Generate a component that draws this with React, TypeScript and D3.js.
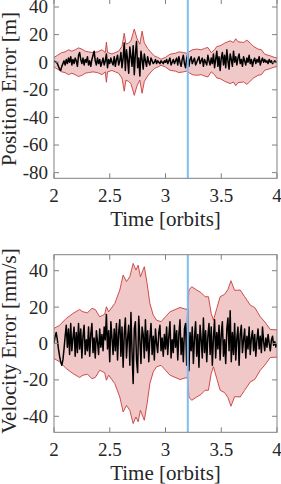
import React from "react";
import * as d3 from "d3";

// ---------- data ----------
const X_TICKS = [2, 2.5, 3, 3.5, 4];
const X_TICK_LABELS = ["2", "2.5", "3", "3.5", "4"];
const POS_Y_TICKS = [-80, -60, -40, -20, 0, 20, 40];
const VEL_Y_TICKS = [-40, -20, 0, 20, 40];
const EVENT_TIME = 3.2;

const ERR_T0 = 2;
const ERR_DT = 0.01;

// 3-sigma envelope, position [m]
const POS_SIGMA_T = [
  2.0, 2.03, 2.07, 2.1, 2.13, 2.16, 2.19, 2.22, 2.25, 2.28, 2.31, 2.35, 2.39, 2.43, 2.46, 2.47, 2.48,
  2.52, 2.55, 2.58, 2.61, 2.63, 2.645, 2.67, 2.69, 2.72, 2.745, 2.77, 2.79, 2.81, 2.84, 2.87, 2.9,
  2.93, 2.96, 3.0, 3.04, 3.09, 3.12, 3.16, 3.19, 3.21, 3.24, 3.28, 3.32, 3.35, 3.38, 3.41, 3.44,
  3.46, 3.49, 3.53, 3.58, 3.61, 3.63, 3.65, 3.7, 3.73, 3.76, 3.79, 3.83, 3.86, 3.89, 3.94, 3.98, 4.0,
];
const POS_SIGMA_V = [
  3.4, 5, 7, 7.5, 9, 8, 9, 10.4, 9.5, 8, 7.5, 7, 7.5, 9, 7, 14.5, 7,
  6, 7, 8, 11.5, 21, 13, 14, 15.5, 24, 17, 13, 22.5, 14, 10, 7, 4.6,
  3.5, 2.2, 3.5, 5.8, 6.5, 7.5, 7, 6.5, 7.5, 9, 9.5, 9, 10, 10.7, 7, 9,
  11.4, 11.9, 13.8, 15.5, 14.3, 17, 14.8, 14.3, 16, 13.8, 11.4, 9.5, 9, 5.8, 4.6, 3.4, 3.2,
];

// position error [m], sampled every 0.01 orbit from t = 2
const POS_ERR = [
  1, 0.5, 0, -1, -3, -5, -6, -3, -1, 1,
  -2, 2, -1, 3, 0, 4, -2, 2, -1, 3,
  1, -3, 5, 7, 2, -1, 3, -2, 2, 0,
  4, -2, 1, -3, 2, 5, 8, 1, -2, 3,
  -1, 2, -3, 0, 3, -2, 1, 6, -4, 2,
  -1, 3, 0, -2, 4, -3, 2, 5, -2, 1,
  7, -4, 3, 14, -6, 9, 2, -8, 11, 4,
  -3, 12, -9, 6, 15, -4, 3, -10, 8, 2,
  -5, 6, 1, -3, 4, 0, -2, 3, 1, -1,
  0, 2, -1, 1, 0, -1, 1, 0, -1, 1,
  0, 2, -1, 1, 3, -2, 0, 2, -1, 1,
  3, -2, 4, 0, -3, 2, 5, -1, -4, 3,
  6, -3, 2, 4, -1, 1, 3, -2, 0, 2,
  4, -1, 1, 3, -3, 2, 0, -2, 5, 1,
  -2, 3, -1, 6, -4, 2, 8, -3, 4, -6,
  3, 7, -2, 5, -4, 9, 1, -5, 6, 2,
  -3, 8, 0, 4, -2, 3, 6, -1, 2, -3,
  4, 1, -2, 3, 0, 5, -1, 2, -3, 1,
  3, -1, 2, 0, 4, -2, 1, 3, 0, 2,
  0, 1, -1, 2, 0, 1, -1, 0, 1, 0,
  0,
];

// 3-sigma envelope, velocity [mm/s]
const VEL_SIGMA_T = [
  2.0, 2.05, 2.11, 2.17, 2.23, 2.26, 2.3, 2.34, 2.37, 2.41, 2.455, 2.47, 2.49, 2.545, 2.59, 2.62,
  2.65, 2.68, 2.71, 2.735, 2.755, 2.775, 2.81, 2.835, 2.86, 2.89, 2.92, 2.96, 3.0, 3.04, 3.13, 3.19,
  3.2, 3.21, 3.235, 3.28, 3.32, 3.355, 3.385, 3.41, 3.43, 3.46, 3.49, 3.53, 3.56, 3.587, 3.62, 3.67,
  3.71, 3.76, 3.8, 3.85, 3.89, 3.94, 4.0,
];
const VEL_SIGMA_V = [
  8.3, 10, 13.8, 16.5, 18.7, 17.4, 16.9, 19.3, 18.7, 14.7, 16.1, 20.2, 17.4, 22, 29.4, 37.6,
  34, 36.7, 44, 40.4, 43, 36.7, 42.2, 33, 22, 15.6, 12.8, 12, 14.7, 17.4, 19.8, 18.7,
  20, 29.4, 31.2, 29.4, 27.9, 25.7, 25.7, 16.5, 12.8, 19.3, 25.7, 27, 29.7, 34.5, 29.2, 29.4,
  25.7, 21.1, 19.8, 14.7, 11.9, 7.7, 7.5,
];

// velocity error [mm/s], sampled every 0.01 orbit from t = 2
const VEL_ERR = [
  0, 4, 6, 2, -3, -7, -10, -12, -9, -3,
  4, 10, -2, 8, -6, 11, -4, 3, 9, -7,
  6, -5, 11, -3, 8, -8, 4, 10, -6, 2,
  -4, 9, -7, 5, 11, -5, 3, -8, 7, 1,
  -6, 8, -2, 5, -4, 9, 2, 16, -3, 7,
  -10, 12, 3, -6, 8, -4, 11, -9, 6, 13,
  -7, 9, -13, 5, 14, -8, 3, 10, -12, 17,
  -5, -22, 8, 12, -9, -16, 15, 2, -11, 9,
  5, -8, 13, -4, 7, -10, 3, 11, -6, 4,
  -9, 8, 0, -5, 6, 10, -4, 3, -7, 5,
  -3, 9, -6, 4, 12, -8, 2, -5, 10, -2,
  7, -9, 5, 13, -6, 3, -10, 8, 11, -12,
  19, -15, 6, -4, 9, -11, 3, 12, -7, 5,
  -13, 10, 2, -8, 14, -5, 7, -10, 4, 11,
  -6, 9, -12, 3, 13, -8, 6, -3, 10, -9,
  5, 12, -7, 2, -11, 8, 14, -4, 18, -10,
  6, -6, 11, -9, 3, 9, -12, 5, 10, -5,
  2, 8, -8, 4, -3, 9, -6, 3, 7, -4,
  5, -7, 2, 8, -3, 4, -5, 9, 1, -4,
  3, -2, 5, 0, -4, 2, 4, -1, 1, -2,
  0,
];

// ---------- styling ----------
const W = 281;
const H = 484;
const LEFT = 54;
const RIGHT = 277;
const FONT = "'Liberation Serif', 'Times New Roman', serif";
const TICK_FS = 19;
const LABEL_FS = 21;
const AXIS_COLOR = "#808080";
const TEXT_COLOR = "#262626";
const FILL = "#f0c8c8";
const EDGE = "#c83c3c";
const BLUE = "#80bdf5";
const TICK_LEN = 5;

type PanelProps = {
  id: string;
  top: number;
  bottom: number;
  domain: [number, number];
  yTicks: number[];
  sigT: number[];
  sigV: number[];
  err: number[];
  ylabel: string;
  ylabelY: number;
};

function Panel({ id, top, bottom, domain, yTicks, sigT, sigV, err, ylabel, ylabelY }: PanelProps) {
  const x = d3.scaleLinear().domain([2, 4]).range([LEFT, RIGHT]);
  const y = d3.scaleLinear().domain(domain).range([bottom, top]);

  const sig = sigT.map((t, i) => ({ t, v: sigV[i] }));
  const area = d3
    .area<{ t: number; v: number }>()
    .x((d) => x(d.t))
    .y0((d) => y(-d.v))
    .y1((d) => y(d.v));
  const upper = d3
    .line<{ t: number; v: number }>()
    .x((d) => x(d.t))
    .y((d) => y(d.v));
  const lower = d3
    .line<{ t: number; v: number }>()
    .x((d) => x(d.t))
    .y((d) => y(-d.v));
  const errPts = err.map((v, i) => ({ t: ERR_T0 + i * ERR_DT, v }));
  const errLine = d3
    .line<{ t: number; v: number }>()
    .x((d) => x(d.t))
    .y((d) => y(d.v));

  return (
    <g>
      <defs>
        <clipPath id={id}>
          <rect x={LEFT} y={top} width={RIGHT - LEFT} height={bottom - top} />
        </clipPath>
      </defs>
      <g clipPath={`url(#${id})`}>
        <path d={area(sig) || ""} fill={FILL} stroke="none" />
        <path d={upper(sig) || ""} fill="none" stroke={EDGE} strokeWidth={0.9} />
        <path d={lower(sig) || ""} fill="none" stroke={EDGE} strokeWidth={0.9} />
        <path d={errLine(errPts) || ""} fill="none" stroke="#000" strokeWidth={1.5} strokeLinejoin="round" />
        <line x1={x(EVENT_TIME)} x2={x(EVENT_TIME)} y1={top} y2={bottom} stroke={BLUE} strokeWidth={2} />
      </g>
      <rect x={LEFT} y={top} width={RIGHT - LEFT} height={bottom - top} fill="none" stroke={AXIS_COLOR} strokeWidth={1} />
      {X_TICKS.map((t, i) => (
        <g key={`xt${i}`}>
          <line x1={x(t)} x2={x(t)} y1={bottom} y2={bottom - TICK_LEN} stroke={AXIS_COLOR} />
          <line x1={x(t)} x2={x(t)} y1={top} y2={top + TICK_LEN} stroke={AXIS_COLOR} />
          <text
            x={x(t)}
            y={bottom + 24}
            textAnchor="middle"
            fontFamily={FONT}
            fontSize={TICK_FS}
            fill={TEXT_COLOR}
          >
            {X_TICK_LABELS[i]}
          </text>
        </g>
      ))}
      {yTicks.map((v, i) => (
        <g key={`yt${i}`}>
          <line x1={LEFT} x2={LEFT + TICK_LEN} y1={y(v)} y2={y(v)} stroke={AXIS_COLOR} />
          <line x1={RIGHT} x2={RIGHT - TICK_LEN} y1={y(v)} y2={y(v)} stroke={AXIS_COLOR} />
          <text
            x={LEFT - 6}
            y={y(v)}
            dy="0.34em"
            textAnchor="end"
            fontFamily={FONT}
            fontSize={TICK_FS}
            fill={TEXT_COLOR}
          >
            {String(v)}
          </text>
        </g>
      ))}
      <text
        x={(LEFT + RIGHT) / 2}
        y={bottom + 47.5}
        textAnchor="middle"
        fontFamily={FONT}
        fontSize={LABEL_FS}
        fill={TEXT_COLOR}
      >
        Time [orbits]
      </text>
      <text
        transform={`translate(15.5, ${ylabelY}) rotate(-90)`}
        textAnchor="middle"
        fontFamily={FONT}
        fontSize={LABEL_FS}
        fill={TEXT_COLOR}
      >
        {ylabel}
      </text>
    </g>
  );
}

export default function App() {
  return (
    <svg
      width={W}
      height={H}
      style={{ position: "absolute", left: 0, top: 0, background: "#fff" }}
    >
      <rect width={W} height={H} fill="#fff" />
      <Panel
        id="clipPos"
        top={-1}
        bottom={178.3}
        domain={[-84.1, 45.8]}
        yTicks={POS_Y_TICKS}
        sigT={POS_SIGMA_T}
        sigV={POS_SIGMA_V}
        err={POS_ERR}
        ylabel="Position Error [m]"
        ylabelY={89}
      />
      <Panel
        id="clipVel"
        top={254.7}
        bottom={432.3}
        domain={[-48.8, 48.8]}
        yTicks={VEL_Y_TICKS}
        sigT={VEL_SIGMA_T}
        sigV={VEL_SIGMA_V}
        err={VEL_ERR}
        ylabel="Velocity Error [mm/s]"
        ylabelY={341}
      />
    </svg>
  );
}
